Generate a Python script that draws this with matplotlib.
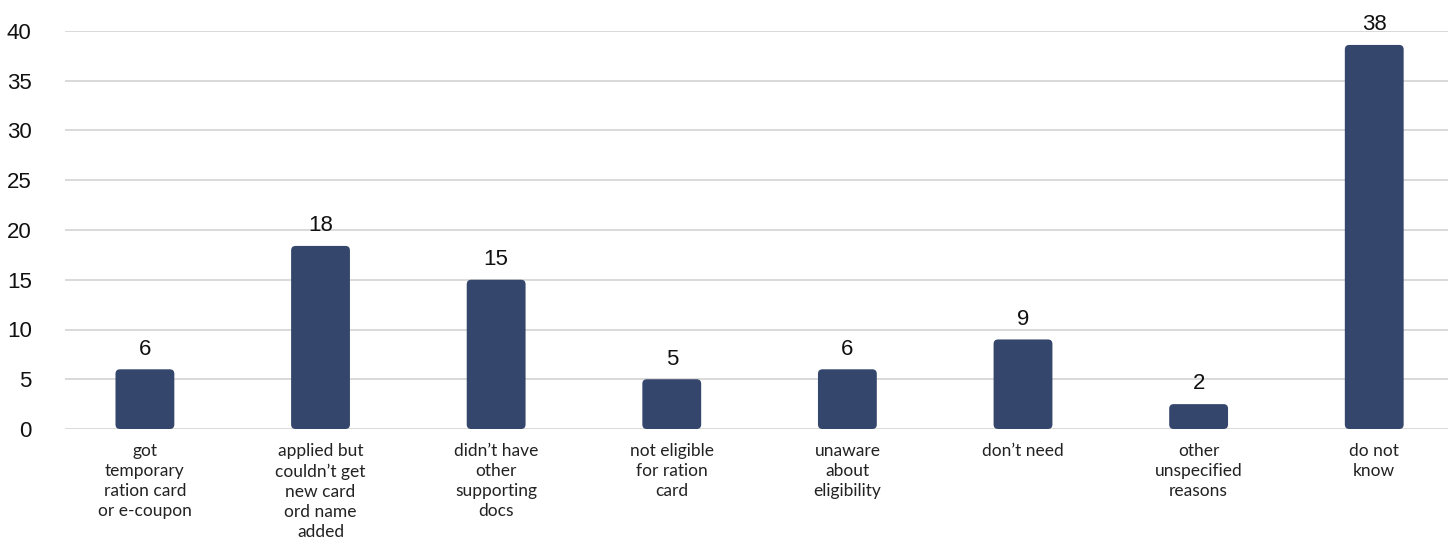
import matplotlib
matplotlib.use('Agg')
import matplotlib.pyplot as plt
from matplotlib.patches import FancyBboxPatch

categories = ['got\ntemporary\nration card\nor e-coupon',
              'applied but\ncouldn\u2019t get\nnew card\nord name\nadded',
              'didn\u2019t have\nother\nsupporting\ndocs',
              'not eligible\nfor ration\ncard',
              'unaware\nabout\neligibility',
              'don\u2019t need',
              'other\nunspecified\nreasons',
              'do not\nknow']
values = [6.0, 18.4, 15.0, 5.0, 6.0, 9.0, 2.5, 38.6]
value_labels = ['6', '18', '15', '5', '6', '9', '2', '38']
yticks = [0, 5, 10, 15, 20, 25, 30, 35, 40]

BAR = '#34466b'
GRID = '#d9d9d9'
NUM_FONT = 'Liberation Sans'
CAT_FONT = 'Lato'

fig = plt.figure(figsize=(14.48, 5.4), dpi=100)
ax = fig.add_axes([65/1448, 1 - 429/540, 1 - 65/1448, (429 - 31)/540])

x = list(range(len(categories)))
bars = ax.bar(x, values, width=0.335, color=BAR)
ax.set_xlim(-0.455, 7.42)
ax.set_ylim(0, 40)

# swap plain bars for rounded ones
fig.canvas.draw()
x0, y0 = ax.transData.transform((0, 0))
x1, y1 = ax.transData.transform((1, 1))
px_x, px_y = x1 - x0, y1 - y0
r = 4.5 / px_x
for b in bars:
    b.set_visible(False)
    p = FancyBboxPatch((b.get_x(), b.get_y()), b.get_width(), b.get_height(),
                       boxstyle=f'round,pad=0,rounding_size={r}',
                       mutation_aspect=px_x / px_y,
                       facecolor=BAR, edgecolor='none', zorder=3)
    ax.add_patch(p)

for xi, v, lab in zip(x, values, value_labels):
    ax.annotate(lab, (xi, v), xytext=(0, 7), textcoords='offset points',
                ha='center', va='bottom', fontsize=16, family=NUM_FONT,
                color='#111111', annotation_clip=False)

ax.set_yticks(yticks)
ax.set_yticklabels([str(t) for t in yticks], fontsize=16, family=NUM_FONT, color='#111111')
ax.set_xticks(x)
ax.set_xticklabels(categories, fontsize=12.5, family=CAT_FONT, color='#222222',
                   linespacing=1.32)
ax.tick_params(axis='y', length=0, pad=24)
ax.tick_params(axis='x', length=0, pad=10)
ax.grid(axis='y', color=GRID, linewidth=1.4, zorder=0)
ax.set_axisbelow(True)
for s in ax.spines.values():
    s.set_visible(False)

fig.savefig('out.png', dpi=100, facecolor='white')
